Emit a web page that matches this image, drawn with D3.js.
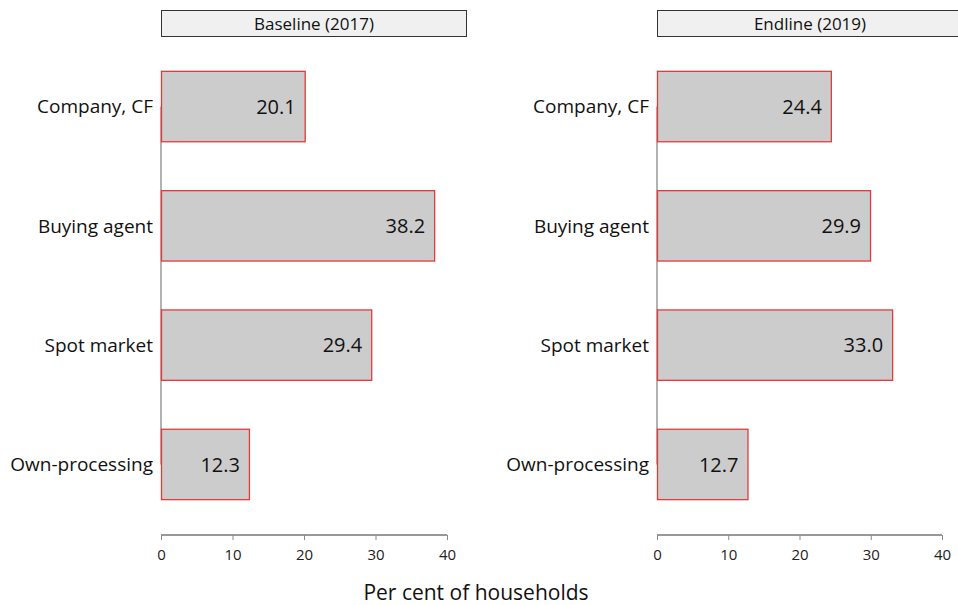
<!DOCTYPE html>
<html>
<head>
<meta charset="utf-8">
<script src="https://cdn.jsdelivr.net/npm/d3@7"></script>
<style>
  body { margin: 0; background: #fff; }
  svg { font-family: 'Open Sans', sans-serif; }
</style>
</head>
<body>
<div id="chart"></div>
<script>
const categories = ['Company, CF', 'Buying agent', 'Spot market', 'Own-processing'];
const baselineValues = [20.1, 38.2, 29.4, 12.3];
const endlineValues = [24.4, 29.9, 33.0, 12.7];
const panelTitles = ['Baseline (2017)', 'Endline (2019)'];
const xTicks = [0, 10, 20, 30, 40];
const xTitle = 'Per cent of households';

const width = 958;
const height = 605;

const svg = d3.select('#chart')
  .append('svg')
  .attr('width', width)
  .attr('height', height);

const panels = [
  { title: panelTitles[0], values: baselineValues, left: 161, right: 447 },
  { title: panelTitles[1], values: endlineValues, left: 657, right: 942 },
];

const yScale = d3.scaleBand()
  .domain(categories)
  .range([47.5, 523.5])
  .paddingInner(0.41)
  .paddingOuter(0.2);

panels.forEach((p) => {
  const xScale = d3.scaleLinear()
    .domain([0, 40])
    .range([p.left, p.right]);

  const g = svg.append('g');

  // strip header
  g.append('rect')
    .attr('x', p.left + 0.5)
    .attr('y', 10.5)
    .attr('width', 305)
    .attr('height', 26)
    .attr('fill', '#f0f0f0')
    .attr('stroke', '#333');

  g.append('text')
    .attr('x', p.left + 153)
    .attr('y', 29.5)
    .attr('text-anchor', 'middle')
    .attr('font-size', '17px')
    .attr('fill', '#111')
    .text(p.title);

  // y axis line (centre of first band to centre of last)
  const yFirst = yScale(categories[0]) + yScale.bandwidth() / 2;
  const yLast = yScale(categories[categories.length - 1]) + yScale.bandwidth() / 2;
  g.append('line')
    .attr('x1', p.left)
    .attr('x2', p.left)
    .attr('y1', yFirst)
    .attr('y2', yLast)
    .attr('stroke', '#999')
    .attr('stroke-width', 1.5);

  g.selectAll('.bar')
    .data(categories)
    .join('rect')
    .attr('class', 'bar')
    .attr('x', xScale(0) + 0.5)
    .attr('y', (d) => yScale(d))
    .attr('width', (d, i) => xScale(p.values[i]) - xScale(0))
    .attr('height', yScale.bandwidth())
    .attr('fill', '#cccccc')
    .attr('stroke', '#e53a3a')
    .attr('stroke-width', 1.3);

  g.selectAll('.val')
    .data(categories)
    .join('text')
    .attr('class', 'val')
    .attr('x', (d, i) => xScale(p.values[i]) - 9)
    .attr('y', (d) => yScale(d) + yScale.bandwidth() / 2)
    .attr('dy', '0.36em')
    .attr('text-anchor', 'end')
    .attr('font-size', '20px')
    .attr('fill', '#111')
    .text((d, i) => p.values[i].toFixed(1));

  g.selectAll('.cat')
    .data(categories)
    .join('text')
    .attr('class', 'cat')
    .attr('x', p.left - 8)
    .attr('y', (d) => yScale(d) + yScale.bandwidth() / 2)
    .attr('dy', '0.36em')
    .attr('text-anchor', 'end')
    .attr('font-size', '19px')
    .attr('fill', '#111')
    .text((d) => d);

  const axis = g.append('g')
    .attr('transform', 'translate(0,535)')
    .call(d3.axisBottom(xScale).tickValues(xTicks).tickSize(5).tickPadding(9));
  axis.select('.domain').attr('stroke', '#333').attr('d', `M${p.left},0H${p.right}`);
  axis.selectAll('.tick line').attr('stroke', '#888');
  axis.selectAll('.tick text')
    .attr('font-size', '15px')
    .attr('font-family', "'Open Sans', sans-serif")
    .attr('fill', '#222');
});

svg.append('text')
  .attr('x', 476)
  .attr('y', 600)
  .attr('text-anchor', 'middle')
  .attr('font-size', '21px')
  .attr('fill', '#111')
  .text(xTitle);
</script>
</body>
</html>
